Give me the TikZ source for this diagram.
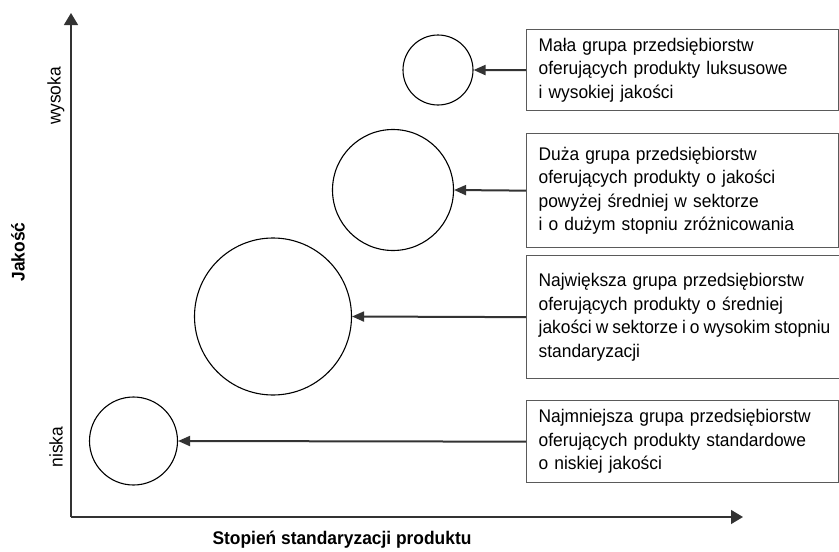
\documentclass[tikz,border=0pt]{standalone}
\usepackage{fontspec}
\setmainfont[FakeStretch=0.95]{Liberation Sans}
\usetikzlibrary{arrows.meta}
\definecolor{linegray}{HTML}{333333}
\definecolor{boxgray}{HTML}{5A5A5A}
\tikzset{
  infobox/.style={draw=boxgray, line width=1.3pt, rectangle, anchor=north west,
    inner xsep=12pt, inner ysep=0pt, align=left,
    font=\fontsize{18.3}{23.5}\selectfont},
  bubble/.style={circle, draw=black, line width=1.1pt, inner sep=0pt},
  conn/.style={draw=linegray, line width=2pt, -{Triangle[length=12pt,width=10pt]}},
  axisline/.style={draw=linegray, line width=1.3pt, -{Triangle[length=12pt,width=14pt]}},
  axislabel/.style={font=\fontsize{18.3}{20}\selectfont, rotate=90},
  axistitle/.style={font=\bfseries\fontsize{18.3}{20}\selectfont}
}
\begin{document}
\begin{tikzpicture}[x=1pt,y=-1pt]
\useasboundingbox (0,0) rectangle (839,552);
% axes
\coordinate (O) at (71,517);
\coordinate (ytip) at (71,13);
\coordinate (xtip) at (743,517);
\draw[axisline] (O) -- (ytip);
\draw[axisline] (O) -- (xtip);
% axis labels
\node[axislabel] (hi) at (56,96) {wysoka};
\node[axislabel] (lo) at (56,447) {niska};
\node[axistitle, rotate=90] (yt) at (18,252) {Jakość};
\node[axistitle] (xt) at (342,540) {Stopień standaryzacji produktu};
% circles
\node[bubble, minimum size=70pt] (c1) at (438,70) {};
\node[bubble, minimum size=121pt] (c2) at (393,190) {};
\node[bubble, minimum size=157pt] (c3) at (273,316.5) {};
\node[bubble, minimum size=88pt] (c4) at (133.5,441) {};
% boxes
\node[infobox, minimum width=312pt, minimum height=81pt, text width=288pt] (b1) at (526,29)
  {Mała grupa przedsiębiorstw\\oferujących produkty luksusowe\\i wysokiej jakości};
\node[infobox, minimum width=312pt, minimum height=114pt, text width=288pt] (b2) at (526,133)
  {Duża grupa przedsiębiorstw\\oferujących produkty o jakości\\powyżej średniej w sektorze\\i o dużym stopniu zróżnicowania};
\node[infobox, minimum height=123pt, text width=298pt] (b3) at (526,255)
  {Największa grupa przedsiębiorstw\\oferujących produkty o średniej\\{\spaceskip=0.22em\relax jakości w sektorze i o wysokim stopniu}\\standaryzacji};
\node[infobox, minimum width=312pt, minimum height=82pt, text width=288pt] (b4) at (526,400)
  {Najmniejsza grupa przedsiębiorstw\\oferujących produkty standardowe\\o niskiej jakości};
% connectors
\draw[conn] (b1.west) -- (c1.east);
\draw[conn] (b2.west) -- (c2.east);
\draw[conn] (b3.west) -- (c3.east);
\draw[conn] (b4.west) -- (c4.east);
\end{tikzpicture}
\end{document}
